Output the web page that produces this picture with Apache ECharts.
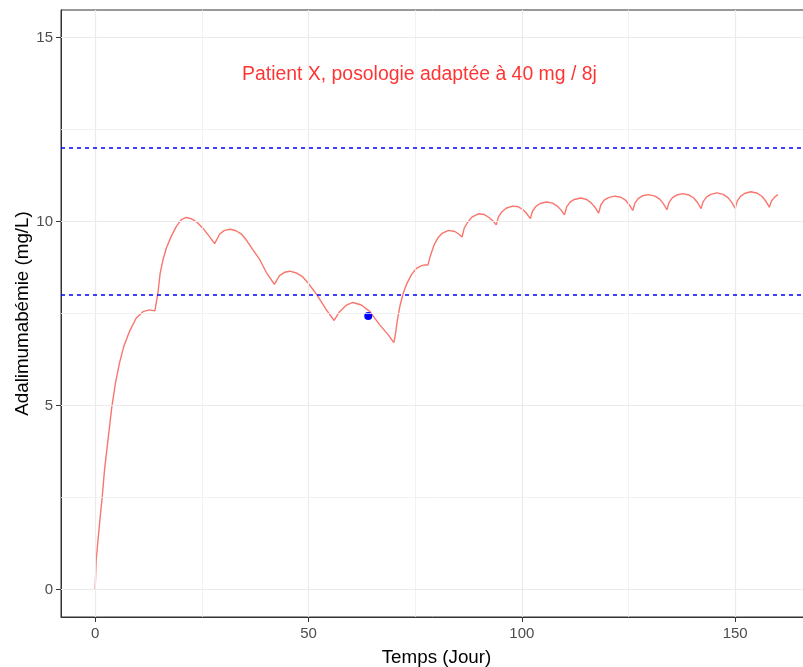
<!DOCTYPE html>
<html>
<head>
<meta charset="utf-8">
<script src="https://cdn.jsdelivr.net/npm/echarts@6/dist/echarts.min.js"></script>
<style>
html,body{margin:0;padding:0;background:#fff;}
#chart{width:803px;height:667px;}
</style>
</head>
<body>
<div id="chart"></div>
<script>
// ---- data ----
const days = [0,0.25,0.6,1.25,1.65,2.2,3,3.9,4.75,5.7,6.7,8,9.6,11.2,12.7,14,
  14.7,15.25,15.9,16.7,17.8,19,20.2,21.35,22.5,23.7,25.25,26.8,28,
  29.2,30.3,31.7,33,34.3,35.6,37,38.5,40.1,42,
  43.2,44.4,45.6,47.2,48.6,49.9,51.9,54.2,56,
  57.3,58.9,60.4,62.4,64.4,66.7,68.7,70,
  70.4,70.8,71.4,72.2,73,74.1,75.3,76.5,77.3,78,
  78.4,78.8,79.5,80.3,81.3,82.8,84.3,85.2,86,
  86.5,87.3,88.3,89.8,91.2,92.3,93.2,94,
  94.5,95.3,96.3,97.8,99.2,100.3,101.2,102,
  102.5,103.3,104.3,105.8,107.2,108.3,109.2,110,
  110.5,111.3,112.3,113.8,115.2,116.3,117.2,118,
  118.5,119.3,120.3,121.8,123.2,124.3,125.2,126,
  126.5,127.3,128.3,129.7,131.2,132.3,133.2,134,
  134.5,135.3,136.3,137.7,139.2,140.3,141.2,142,
  142.5,143.3,144.3,145.7,147.2,148.3,149.2,150,
  150.5,151.3,152.3,153.7,155.2,156.3,157.2,158,
  158.5,159.3,160];
const conc = [0,0.8,1.25,2.05,2.5,3.25,4.05,4.95,5.6,6.15,6.6,7.0,7.37,7.55,7.6,7.57,
  8.05,8.6,8.96,9.28,9.59,9.86,10.05,10.11,10.08,10.0,9.82,9.59,9.4,
  9.66,9.76,9.79,9.75,9.66,9.47,9.23,8.98,8.62,8.29,
  8.53,8.62,8.65,8.6,8.5,8.33,8.02,7.6,7.31,
  7.55,7.73,7.8,7.73,7.55,7.19,6.92,6.71,
  6.95,7.3,7.69,8.05,8.3,8.55,8.73,8.8,8.82,8.82,
  9.0,9.15,9.38,9.55,9.68,9.76,9.73,9.66,9.58,
  9.82,9.98,10.12,10.21,10.19,10.11,10.02,9.91,
  10.12,10.26,10.36,10.42,10.4,10.32,10.21,10.08,
  10.28,10.41,10.49,10.53,10.5,10.42,10.31,10.18,
  10.4,10.53,10.6,10.64,10.6,10.5,10.38,10.23,
  10.45,10.58,10.65,10.69,10.66,10.58,10.45,10.3,
  10.5,10.63,10.7,10.73,10.69,10.61,10.48,10.32,
  10.52,10.65,10.72,10.76,10.72,10.64,10.51,10.35,
  10.54,10.67,10.74,10.78,10.74,10.65,10.52,10.36,
  10.56,10.69,10.77,10.81,10.77,10.68,10.55,10.39,
  10.56,10.67,10.73];
const obsDay = [64];
const obsConc = [7.43];
const thresholds = [8, 12];
const xTicks = [0, 50, 100, 150];
const xMinor = [25, 75, 125];
const yTicks = [0, 5, 10, 15];
const yMinor = [2.5, 7.5, 12.5];
const annotation = {x: 76, y: 14, text: 'Patient X, posologie adaptée à 40 mg / 8j'};
const xTitle = 'Temps (Jour)';
const yTitle = 'Adalimumabémie (mg/L)';

// ---- chart ----
const FONT = 'Liberation Sans, Arial, sans-serif';
const chart = echarts.init(document.getElementById('chart'), null, {renderer: 'canvas'});
const lineData = days.map((d, i) => [d, conc[i]]);
const obsData = obsDay.map((d, i) => [d, obsConc[i]]);

const gridLines = [];
xTicks.forEach(v => gridLines.push({xAxis: v, lineStyle: {color: '#EBEBEB', width: 1.2, type: 'solid'}}));
xMinor.forEach(v => gridLines.push({xAxis: v, lineStyle: {color: '#EFEFEF', width: 0.8, type: 'solid'}}));
yTicks.forEach(v => gridLines.push({yAxis: v, lineStyle: {color: '#EBEBEB', width: 1.2, type: 'solid'}}));
yMinor.forEach(v => gridLines.push({yAxis: v, lineStyle: {color: '#EFEFEF', width: 0.8, type: 'solid'}}));

const option = {
  animation: false,
  backgroundColor: '#ffffff',
  grid: {left: 61, top: 10, width: 751, height: 607, outerBoundsMode: 'none', containLabel: false,
    show: true, borderColor: '#333333', borderWidth: 1, backgroundColor: 'transparent'},
  xAxis: {
    type: 'value', min: -8, max: 168,
    name: xTitle, nameLocation: 'middle', nameGap: 31, nameMoveOverlap: false,
    nameTextStyle: {color: '#000', fontSize: 18.8, fontFamily: FONT},
    axisLine: {show: true, onZero: false, lineStyle: {color: '#333333', width: 1}},
    axisTick: {show: true, length: 5, customValues: xTicks, lineStyle: {color: '#333333', width: 1}},
    axisLabel: {show: true, margin: 9, customValues: xTicks, color: '#4D4D4D', fontSize: 15, fontFamily: FONT},
    splitLine: {show: false}
  },
  yAxis: {
    type: 'value', min: -0.75, max: 15.75,
    name: yTitle, nameLocation: 'middle', nameGap: 29, nameRotate: 90, nameMoveOverlap: false,
    nameTextStyle: {color: '#000', fontSize: 18.8, fontFamily: FONT},
    axisLine: {show: true, onZero: false, lineStyle: {color: '#333333', width: 1}},
    axisTick: {show: true, length: 5, customValues: yTicks, lineStyle: {color: '#333333', width: 1}},
    axisLabel: {show: true, margin: 8, customValues: yTicks, color: '#4D4D4D', fontSize: 15, fontFamily: FONT},
    splitLine: {show: false}
  },
  series: [
    {
      type: 'line', data: [], z: 1, silent: true,
      markLine: {silent: true, symbol: ['none', 'none'], label: {show: false}, animation: false, data: gridLines}
    },
    {
      type: 'line', data: lineData, z: 3, showSymbol: false, symbol: 'none', smooth: false,
      lineStyle: {color: '#F8766D', width: 1.4}
    },
    {
      type: 'line', data: [], z: 2, silent: true,
      markLine: {
        silent: true, symbol: ['none', 'none'], label: {show: false}, animation: false,
        data: thresholds.map(v => ({yAxis: v, lineStyle: {color: '#0000FF', width: 1.5, type: [4, 4], opacity: 1}}))
      }
    },
    {
      type: 'scatter', data: obsData, z: 4, symbol: 'circle', symbolSize: 8,
      itemStyle: {color: '#0000FF', opacity: 1}
    },
    {
      type: 'scatter', data: [[annotation.x, annotation.y]], z: 4, symbolSize: 0,
      label: {show: true, position: 'inside', formatter: annotation.text, color: '#FF0000', fontSize: 19.4, fontFamily: FONT}
    }
  ]
};
chart.setOption(option);
</script>
</body>
</html>
